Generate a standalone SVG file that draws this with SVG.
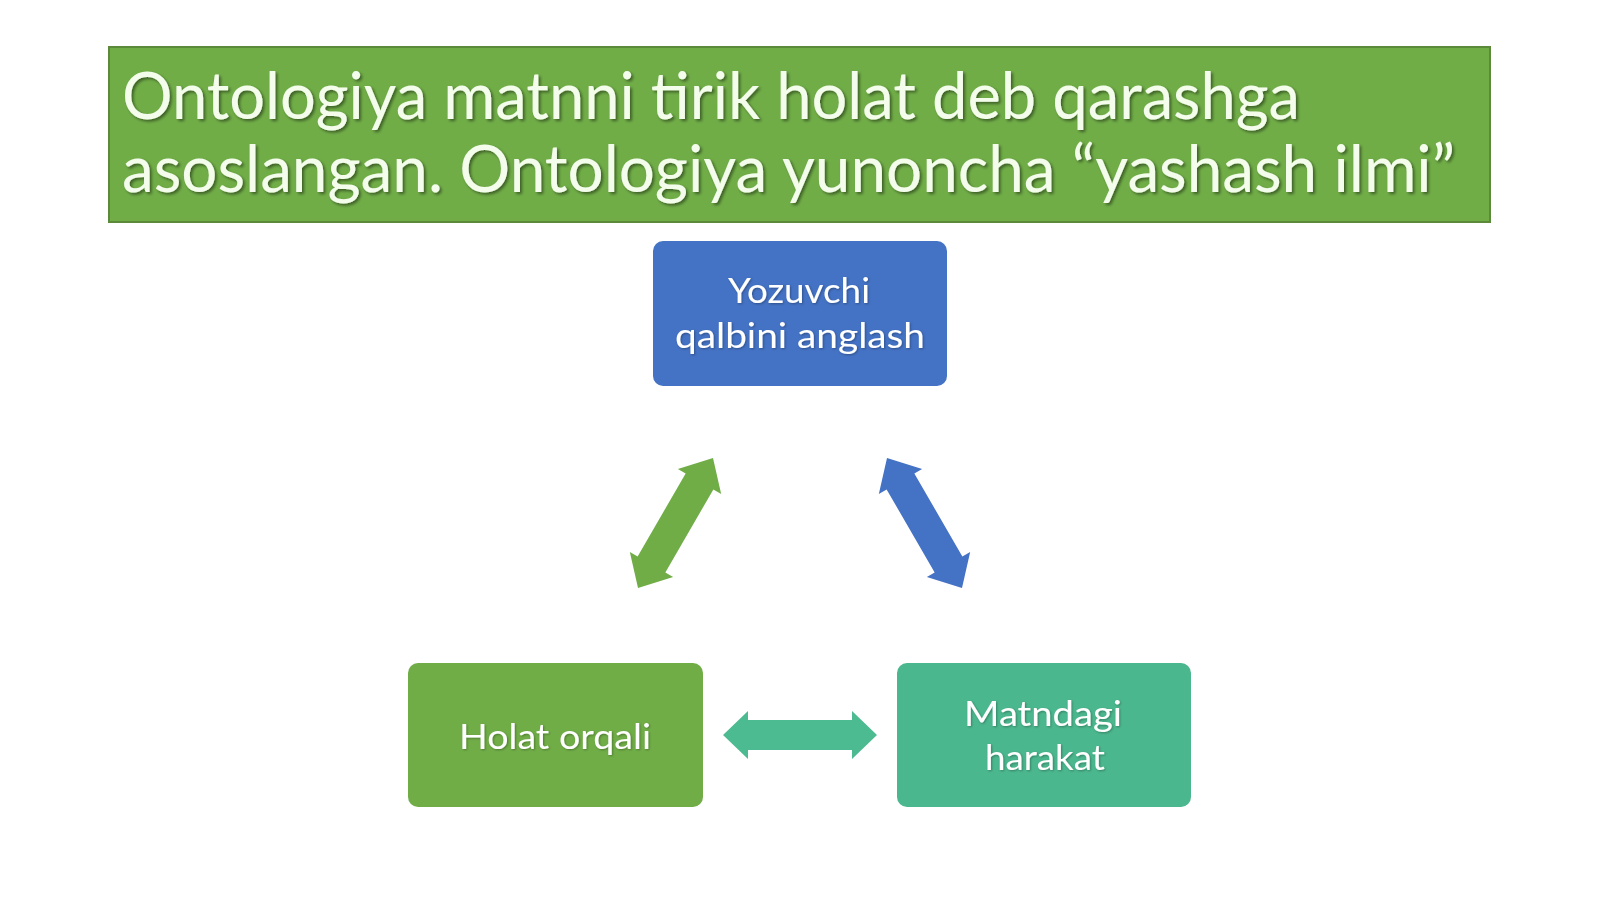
<svg xmlns="http://www.w3.org/2000/svg" width="1600" height="899" viewBox="0 0 1600 899">
  <defs>
    <filter id="tshadow" x="-5%" y="-20%" width="110%" height="140%">
      <feDropShadow dx="2" dy="2" stdDeviation="1.5" flood-color="#000000" flood-opacity="0.45"/>
    </filter>
    <filter id="nshadow" x="-5%" y="-20%" width="110%" height="140%">
      <feDropShadow dx="1" dy="1" stdDeviation="1" flood-color="#000000" flood-opacity="0.3"/>
    </filter>
  </defs>
  <style>
    .title { font-family: Lato, "Liberation Sans", sans-serif; font-size: 66px; fill: #F4FDEC; }
    .ntext { font-family: Lato, "Liberation Sans", sans-serif; font-size: 34px; fill: #FFFFFF; text-anchor: middle; }
    .node { rx: 10; ry: 10; }
  </style>
  <rect x="0" y="0" width="1600" height="899" fill="#FFFFFF"/>

  <g id="title">
    <rect x="109" y="47" width="1381" height="175" fill="#70AD47" stroke="#5A8A3A" stroke-width="2"/>
    <g filter="url(#tshadow)">
      <text class="title" x="122" y="119" textLength="1178" lengthAdjust="spacingAndGlyphs">Ontologiya matnni tirik holat deb qarashga</text>
      <text class="title" x="122" y="192" textLength="1333" lengthAdjust="spacingAndGlyphs">asoslangan. Ontologiya yunoncha “yashash ilmi”</text>
    </g>
  </g>

  <g id="node-yozuvchi">
    <rect class="node" x="653" y="241" width="294" height="145" fill="#4472C4"/>
    <g filter="url(#nshadow)">
      <text class="ntext" x="799" y="303" textLength="142" lengthAdjust="spacingAndGlyphs">Yozuvchi</text>
      <text class="ntext" x="800" y="348" textLength="250" lengthAdjust="spacingAndGlyphs">qalbini anglash</text>
    </g>
  </g>

  <g id="node-holat">
    <rect class="node" x="408" y="663" width="295" height="144" fill="#70AD47"/>
    <g filter="url(#nshadow)">
      <text class="ntext" x="555" y="749" textLength="192" lengthAdjust="spacingAndGlyphs">Holat orqali</text>
    </g>
  </g>

  <g id="node-matndagi">
    <rect class="node" x="897" y="663" width="294" height="144" fill="#4BB78E"/>
    <g filter="url(#nshadow)">
      <text class="ntext" x="1043" y="726" textLength="158" lengthAdjust="spacingAndGlyphs">Matndagi</text>
      <text class="ntext" x="1045" y="770" textLength="120" lengthAdjust="spacingAndGlyphs">harakat</text>
    </g>
  </g>

  <g id="connectors">
    <polygon fill="#70AD47" points="638,588 673.15,577.10 665.35,572.61 713.37,489.39 721.17,493.88 713,458 677.85,468.90 685.65,473.39 637.63,556.61 629.83,552.12"/>
    <polygon fill="#4472C4" points="962,588 926.85,577.10 934.65,572.61 886.63,489.39 878.83,493.88 887,458 922.15,468.90 914.35,473.39 962.37,556.61 970.17,552.12"/>
    <polygon fill="#4DBB91" points="723,735 748,711 748,720 852,720 852,711 877,735 852,759 852,750 748,750 748,759"/>
  </g>
</svg>
